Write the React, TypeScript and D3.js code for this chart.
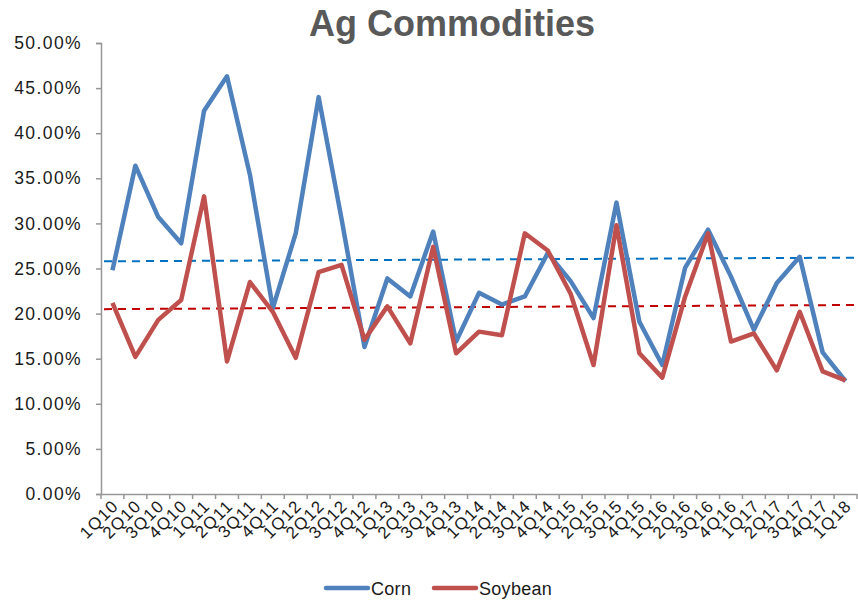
import React, { useEffect, useRef } from "react";
import * as d3 from "d3";

const quarters = [
  "1Q10", "2Q10", "3Q10", "4Q10", "1Q11", "2Q11", "3Q11", "4Q11",
  "1Q12", "2Q12", "3Q12", "4Q12", "1Q13", "2Q13", "3Q13", "4Q13",
  "1Q14", "2Q14", "3Q14", "4Q14", "1Q15", "2Q15", "3Q15", "4Q15",
  "1Q16", "2Q16", "3Q16", "4Q16", "1Q17", "2Q17", "3Q17", "4Q17", "1Q18",
];

const corn = [
  24.8, 36.4, 30.7, 27.8, 42.5, 46.3, 35.4, 20.6,
  28.9, 44.0, 30.5, 16.3, 23.9, 21.9, 29.1, 16.9,
  22.3, 21.0, 21.9, 26.7, 23.6, 19.5, 32.3, 19.1,
  14.3, 25.1, 29.3, 24.1, 18.2, 23.4, 26.3, 15.7, 12.5,
];

const soybean = [
  21.2, 15.2, 19.3, 21.5, 33.0, 14.7, 23.5, 20.2,
  15.1, 24.6, 25.4, 17.1, 20.8, 16.7, 27.4, 15.6,
  18.0, 17.6, 28.9, 27.0, 22.2, 14.3, 29.8, 15.6,
  12.9, 21.9, 28.9, 16.9, 17.8, 13.7, 20.2, 13.6, 12.6,
];

// trendline values at the first and last quarter
const cornTrend = [25.8, 26.2];
const soyTrend = [20.5, 20.95];

const yTicks = [0, 5, 10, 15, 20, 25, 30, 35, 40, 45, 50];

const W = 858;
const H = 600;

const App: React.FC = () => {
  const ref = useRef<SVGSVGElement>(null);

  useEffect(() => {
    if (!ref.current) return;
    const svg = d3.select(ref.current);
    svg.selectAll("*").remove();

    const left = 101;
    const right = 857;
    const top = 43;
    const bottom = 494;
    const font = "Arial, 'Liberation Sans', sans-serif";

    const x = d3.scaleBand().domain(quarters).range([left, right]).padding(0);
    const y = d3.scaleLinear().domain([0, 50]).range([bottom, top]);
    const cx = (q: string) => (x(q) || 0) + x.bandwidth() / 2;

    // title
    svg
      .append("text")
      .attr("x", 452)
      .attr("y", 36)
      .attr("text-anchor", "middle")
      .attr("font-family", font)
      .attr("font-weight", "bold")
      .attr("font-size", 36)
      .attr("fill", "#595959")
      .text("Ag Commodities");

    // y axis
    const yAxis = svg
      .append("g")
      .attr("transform", `translate(${left},0)`)
      .call(
        d3
          .axisLeft(y)
          .tickValues(yTicks)
          .tickSize(5)
          .tickPadding(14)
          .tickFormat((d) => `${(d as number).toFixed(2)}%`)
      );
    yAxis.select(".domain").attr("stroke", "#969696").attr("stroke-width", 1.5);
    yAxis.selectAll(".tick line").attr("stroke", "#969696").attr("stroke-width", 1.5);
    yAxis
      .selectAll(".tick text")
      .attr("font-family", font)
      .attr("font-size", 17.5)
      .attr("letter-spacing", 1.4)
      .attr("fill", "#1a1a1a");

    // x axis
    const xAxis = svg
      .append("g")
      .attr("transform", `translate(0,${bottom})`)
      .call(d3.axisBottom(x).tickSize(0).tickFormat(() => ""));
    xAxis.select(".domain").attr("stroke", "#969696").attr("stroke-width", 1.5);

    const bounds = quarters.map((q) => x(q) || 0).concat([right]);
    svg
      .append("g")
      .selectAll("line")
      .data(bounds)
      .enter()
      .append("line")
      .attr("x1", (d) => d)
      .attr("x2", (d) => d)
      .attr("y1", bottom)
      .attr("y2", bottom + 5)
      .attr("stroke", "#969696")
      .attr("stroke-width", 1.5);

    svg
      .append("g")
      .selectAll("text")
      .data(quarters)
      .enter()
      .append("text")
      .attr("transform", (d) => `translate(${cx(d) + 7},${bottom + 13}) rotate(-45)`)
      .attr("text-anchor", "end")
      .attr("font-family", font)
      .attr("font-size", 17)
      .attr("letter-spacing", 1.2)
      .attr("fill", "#1a1a1a")
      .text((d) => d);

    // trendlines
    const trends = [
      { vals: cornTrend, color: "#0070C0" },
      { vals: soyTrend, color: "#C00000" },
    ];
    const first = cx(quarters[0]);
    const last = cx(quarters[quarters.length - 1]);
    const slope = (v: number[]) => (v[1] - v[0]) / (last - first);
    trends.forEach((t) => {
      const at = (px: number) => t.vals[0] + slope(t.vals) * (px - first);
      svg
        .append("line")
        .attr("x1", left + 3)
        .attr("x2", right)
        .attr("y1", y(at(left + 3)))
        .attr("y2", y(at(right)))
        .attr("stroke", t.color)
        .attr("stroke-width", 2)
        .attr("stroke-dasharray", "8,6");
    });

    // series
    const line = d3
      .line<number>()
      .x((_, i) => cx(quarters[i]))
      .y((d) => y(d));

    const series = [
      { name: "Corn", vals: corn, color: "#4F81BD" },
      { name: "Soybean", vals: soybean, color: "#C0504D" },
    ];
    series.forEach((s) => {
      svg
        .append("path")
        .datum(s.vals)
        .attr("d", line)
        .attr("fill", "none")
        .attr("stroke", s.color)
        .attr("stroke-width", 4.5)
        .attr("stroke-linejoin", "round");
    });

    // legend
    const legend = [
      { name: "Corn", color: "#4F81BD", x0: 326 },
      { name: "Soybean", color: "#C0504D", x0: 434 },
    ];
    legend.forEach((l) => {
      svg
        .append("line")
        .attr("x1", l.x0)
        .attr("x2", l.x0 + 42)
        .attr("y1", 588)
        .attr("y2", 588)
        .attr("stroke", l.color)
        .attr("stroke-width", 4.5)
        .attr("stroke-linecap", "round");
      svg
        .append("text")
        .attr("x", l.x0 + 45)
        .attr("y", 595)
        .attr("font-family", font)
        .attr("font-size", 18)
        .attr("letter-spacing", 0.3)
        .attr("fill", "#1a1a1a")
        .text(l.name);
    });
  }, []);

  return (
    <svg
      ref={ref}
      width={W}
      height={H}
      style={{ position: "absolute", left: 0, top: 0, background: "#fff" }}
    />
  );
};

export default App;
